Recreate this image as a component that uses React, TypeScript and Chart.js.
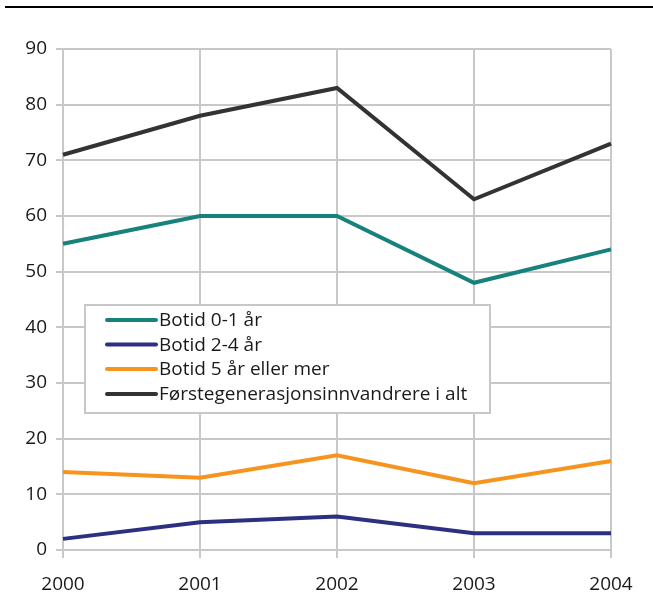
import React, { useEffect, useRef } from "react";
import { Chart, registerables } from "chart.js";

Chart.register(...registerables);

const categories = ["2000", "2001", "2002", "2003", "2004"];
const seriesLabels = [
  "Botid 0-1 år",
  "Botid 2-4 år",
  "Botid 5 år eller mer",
  "Førstegenerasjonsinnvandrere i alt",
];
const botid01 = [55, 60, 60, 48, 54];
const botid24 = [2, 5, 6, 3, 3];
const botid5 = [14, 13, 17, 12, 16];
const iAlt = [71, 78, 83, 63, 73];
const seriesColors = ["#17817c", "#2d2f80", "#f7941d", "#333333"];

const FONT = "'Open Sans', 'Noto Sans', sans-serif";

const decorPlugin = {
  id: "decor",
  afterDraw(chart: any) {
    const ctx = chart.ctx;
    ctx.save();
    // top rule
    ctx.strokeStyle = "#000000";
    ctx.lineWidth = 2;
    ctx.beginPath();
    ctx.moveTo(5, 7);
    ctx.lineTo(653, 7);
    ctx.stroke();

    // legend box
    const x0 = 85, y0 = 305, x1 = 490, y1 = 413;
    ctx.fillStyle = "#ffffff";
    ctx.fillRect(x0, y0, x1 - x0, y1 - y0);
    ctx.strokeStyle = "#c8c8c8";
    ctx.lineWidth = 2;
    ctx.strokeRect(x0, y0, x1 - x0, y1 - y0);
    const rows = [320, 344.5, 369, 394];
    chart.data.datasets.forEach((ds: any, i: number) => {
      const y = rows[i];
      ctx.strokeStyle = ds.borderColor;
      ctx.lineWidth = 4;
      ctx.lineCap = "round";
      ctx.beginPath();
      ctx.moveTo(107, y);
      ctx.lineTo(156, y);
      ctx.stroke();
      ctx.fillStyle = "#1a1a1a";
      ctx.font = `19px ${FONT}`;
      ctx.textBaseline = "middle";
      ctx.textAlign = "left";
      ctx.fillText(ds.label, 159, y + 1);
    });
    ctx.restore();
  },
};

export default function App() {
  const ref = useRef<HTMLCanvasElement | null>(null);
  useEffect(() => {
    if (!ref.current) return;
    const data = [botid01, botid24, botid5, iAlt];
    const chart = new Chart(ref.current, {
      type: "line",
      data: {
        labels: categories,
        datasets: data.map((d, i) => ({
          label: seriesLabels[i],
          data: d,
          borderColor: seriesColors[i],
          backgroundColor: seriesColors[i],
          borderWidth: 4,
          pointRadius: 0,
          tension: 0,
          fill: false,
        })),
      },
      options: {
        responsive: false,
        animation: false,
        layout: { padding: { top: 49, right: 42, left: 0, bottom: 0 } },
        plugins: { legend: { display: false }, tooltip: { enabled: false } },
        scales: {
          x: {
            type: "category",
            offset: false,
            grid: { color: "#c8c8c8", lineWidth: 2, tickLength: 8, drawOnChartArea: true },
            border: { color: "#c8c8c8", width: 2 },
            ticks: {
              color: "#1a1a1a",
              font: { family: FONT, size: 19 },
              padding: 15,
              maxRotation: 0,
            },
            afterFit: (s: any) => {
              s.height = 62;
            },
          },
          y: {
            min: 0,
            max: 90,
            grid: { color: "#c8c8c8", lineWidth: 2, tickLength: 7 },
            border: { color: "#c8c8c8", width: 2 },
            ticks: {
              stepSize: 10,
              color: "#1a1a1a",
              font: { family: FONT, size: 19 },
              padding: 9,
            },
            afterFit: (s: any) => {
              s.width = 63;
            },
          },
        },
      },
      plugins: [decorPlugin],
    });
    return () => chart.destroy();
  }, []);
  return (
    <div style={{ position: "absolute", left: 0, top: 0, width: 653, height: 612, background: "#fff" }}>
      <canvas ref={ref} width={653} height={612} style={{ display: "block" }} />
    </div>
  );
}
